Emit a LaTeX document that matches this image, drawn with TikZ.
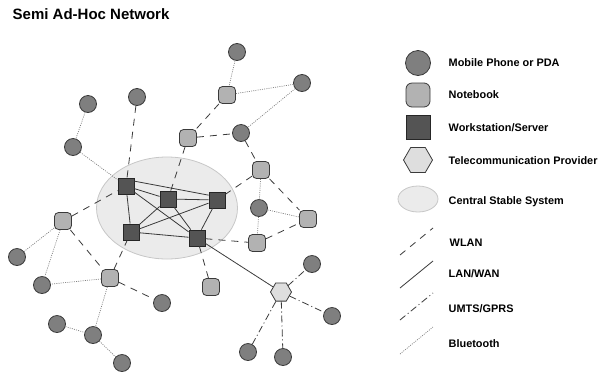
\documentclass[tikz,border=0pt]{standalone}
\usepackage{fontspec}
\setmainfont{Liberation Sans}
\usepackage{xcolor}
\usepackage{tikz}
\usetikzlibrary{shapes.geometric}
\definecolor{mobilegray}{HTML}{7F7F7F}
\definecolor{notegray}{HTML}{B2B2B2}
\definecolor{servergray}{HTML}{545454}
\definecolor{providergray}{HTML}{DEDEDE}
\definecolor{coregray}{HTML}{EBEBEB}
\definecolor{edgegray}{HTML}{3A3A3A}

\begin{document}
\begin{tikzpicture}[x=1pt, y=-1pt, line width=0.8pt,
    mobile/.style={circle, draw=edgegray, fill=mobilegray, minimum size=17pt, inner sep=0pt},
    notebook/.style={rectangle, rounded corners=4pt, draw=edgegray, fill=notegray, minimum size=17pt, inner sep=0pt},
    server/.style={rectangle, draw=black!85, fill=servergray, minimum size=16pt, inner sep=0pt},
    provider/.style={regular polygon, regular polygon sides=6, draw=edgegray, fill=providergray, minimum size=21pt, inner sep=0pt},
    core/.style={ellipse, draw=black!22, fill=coregray, inner sep=0pt},
    wlan/.style={draw=edgegray, dash pattern=on 7pt off 6pt},
    lanwan/.style={draw=edgegray},
    umts/.style={draw=edgegray, dash pattern=on 7pt off 3pt on 1pt off 3pt},
    bluetooth/.style={draw=black!50, line width=0.7pt, dash pattern=on 1pt off 1.2pt},
    legendtext/.style={anchor=base west, font=\fontsize{10.9}{13}\selectfont\bfseries}]
  \useasboundingbox (0,0) rectangle (604,373);

  \node[anchor=base west, font=\fontsize{15}{18}\selectfont\bfseries] (title) at (9,19) {Semi Ad-Hoc Network};

  \node[core, minimum width=141pt, minimum height=102pt] (center) at (167,208) {};

  \foreach \name/\x/\y in {m1/88/104, m2/137/97, m3/73/147, m4/237/52, m5/302/83,
      m6/241/133, m7/259/208, m8/312/264, m9/332/316, m10/248/352, m11/283/357,
      m12/17/257, m13/42/285, m14/162/303, m15/57/324, m16/93/335, m17/122/363}
    \node[mobile] (\name) at (\x,\y) {};
  \foreach \name/\x/\y in {n1/188/138, n2/227/95, n3/261/170, n4/308/219,
      n5/257/243, n6/211/287, n7/63/221, n8/110/278}
    \node[notebook] (\name) at (\x,\y) {};
  \foreach \name/\x/\y in {s1/126/186, s2/168/199, s3/217/200, s4/131/232, s5/197/238}
    \node[server] (\name) at (\x,\y) {};
  \node[provider] (telco) at (281,292) {};

  \foreach \a/\b in {s1/s2, s1/s4, s1/s5, s2/s3, s2/s4, s2/s5, s3/s4, s3/s5, s4/s5, s5/telco}
    \draw[lanwan] (\a) -- (\b);
  \draw[lanwan] (s1.30) -- (s3.150);
  \foreach \a/\b in {m2/s1, n1/s2, n2/n1, n1/m6, m6/n3, n3/s3, n3/n4, n5/n4, s5/n5,
      s5/n6, n7/s1, n7/n8, n8/s4, n8/m14}
    \draw[wlan] (\a) -- (\b);
  \foreach \a/\b in {telco/m8, telco/m9, telco/m10, telco/m11}
    \draw[umts] (\a) -- (\b);
  \foreach \a/\b in {m1/m3, m3/s1, m4/n2, n2/m5, m5/m6, n3/m7, m7/n4, m7/n5,
      n7/m12, n7/m13, n8/m13, n8/m16, m15/m16, m16/m17}
    \draw[bluetooth] (\a) -- (\b);

  \node[mobile, minimum size=25pt] (legmobile) at (418,63) {};
  \node[notebook, minimum size=24pt, rounded corners=6pt] (legnotebook) at (418,95) {};
  \node[server, minimum size=24pt] (legserver) at (418,127) {};
  \node[provider, minimum size=29pt] (legprovider) at (418,160) {};
  \node[core, minimum width=40pt, minimum height=26pt] (legcenter) at (418,199) {};
  \foreach \name/\y in {wlan/255, lanwan/288, umts/320, bluetooth/354} {
    \coordinate (\name a) at (400,\y);
    \coordinate (\name b) at (433,\y-27);
    \draw[\name] (\name a) -- (\name b);
  }

  \node[legendtext] (txtmobile) at (445,66) {Mobile Phone or PDA};
  \node[legendtext] (txtnotebook) at (445,98) {Notebook};
  \node[legendtext] (txtserver) at (445,131.5) {Workstation/Server};
  \node[legendtext] (txtprovider) at (445,164) {Telecommunication Provider};
  \node[legendtext] (txtcenter) at (445,204) {Central Stable System};
  \node[legendtext] (txtwlan) at (446,246) {WLAN};
  \node[legendtext] (txtlanwan) at (445,277) {LAN/WAN};
  \node[legendtext] (txtumts) at (445,312) {UMTS/GPRS};
  \node[legendtext] (txtbluetooth) at (445,347) {Bluetooth};
\end{tikzpicture}
\end{document}
